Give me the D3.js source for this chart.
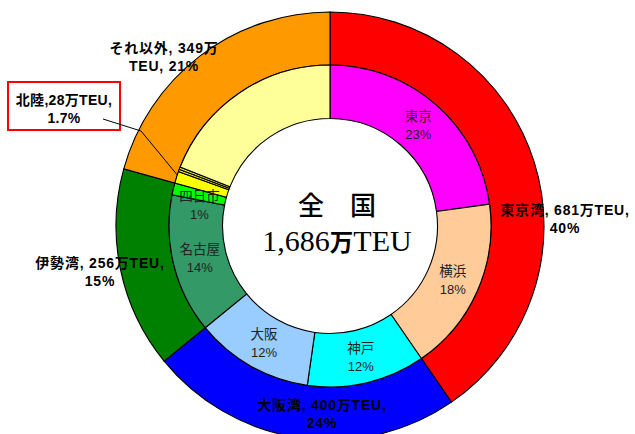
<!DOCTYPE html>
<html>
<head>
<meta charset="utf-8">
<script src="https://cdn.jsdelivr.net/npm/d3@7/dist/d3.min.js"></script>
<style>
  html, body { margin: 0; padding: 0; background: #fff; }
  svg { display: block; }
</style>
</head>
<body>
<svg id="chart" width="635" height="434"></svg>
<script>
// 港湾別コンテナ取扱量（万TEU）
// 外側：港湾グループ
const bayNames   = ["東京湾", "大阪湾", "伊勢湾", "それ以外"];
const bayValues  = [681, 400, 256, 349];
const bayShares  = ["40%", "24%", "15%", "21%"];
const bayColors  = ["#FF0000", "#0000FF", "#008000", "#FF9900"];

// 内側：個別港（北陸3港は「それ以外」の内数）
const portNames  = ["東京", "横浜", "神戸", "大阪", "名古屋", "四日市", "新潟", "伏木富山", "金沢", "その他"];
const portValues = [385, 296, 200, 200, 236, 20, 20, 4, 4, 321];
const portShares = ["23%", "18%", "12%", "12%", "14%", "1%", null, null, null, null];
const portColors = ["#FF00FF", "#FFCC99", "#00FFFF", "#99CCFF", "#339966", "#00FF00",
                    "#FFFF00", "#FFFF00", "#FFFF00", "#FFFF99"];

// 北陸の注記
const hokurikuLabel = ["北陸,28万TEU,", "1.7%"];
const totalLabel = { title: "全　国", value: "1,686", unit: "万", suffix: "TEU" };

const svg = d3.select("#chart");
const cx = 330, cy = 226;
const rHole = 107.5, rMid = 161, rOuter = 214;

const g = svg.append("g").attr("transform", `translate(${cx},${cy})`);

const pie = d3.pie().sort(null).value(d => d.v).startAngle(0).endAngle(2 * Math.PI);

const outerData = pie(bayNames.map((n, i) => ({ n, v: bayValues[i], c: bayColors[i], s: bayShares[i] })));
const innerData = pie(portNames.map((n, i) => ({ n, v: portValues[i], c: portColors[i], s: portShares[i] })));

const outerArc = d3.arc().innerRadius(rMid).outerRadius(rOuter);
const innerArc = d3.arc().innerRadius(rHole).outerRadius(rMid);

g.selectAll("path.outer").data(outerData).join("path")
  .attr("class", "outer")
  .attr("d", outerArc)
  .attr("fill", d => d.data.c)
  .attr("stroke", "#000")
  .attr("stroke-width", 1.1);

g.selectAll("path.inner").data(innerData).join("path")
  .attr("class", "inner")
  .attr("d", innerArc)
  .attr("fill", d => d.data.c)
  .attr("stroke", "#000")
  .attr("stroke-width", 1.1);

// 内側の港名ラベル
const jp = "'Noto Sans CJK JP', 'Noto Sans', sans-serif";
const latinJp = "'Liberation Sans', 'Noto Sans CJK JP', sans-serif";
const inner = g.selectAll("g.ilabel").data(innerData.filter(d => d.data.s)).join("g")
  .attr("class", "ilabel")
  .attr("transform", d => {
    const [x, y] = innerArc.centroid(d);
    const shift = d.data.n === "四日市" ? 10 : 0;
    return `translate(${x},${y + shift})`;
  });
inner.append("text")
  .attr("text-anchor", "middle")
  .attr("y", -4)
  .style("font-family", jp).style("font-size", "13.5px").style("fill", "#222")
  .text(d => d.data.n);
inner.append("text")
  .attr("text-anchor", "middle")
  .attr("y", 14)
  .style("font-family", latinJp).style("font-size", "13px").style("fill", "#222")
  .text(d => d.data.s);

// 外側のグループラベル
const outerLabelPos = {
  "東京湾":  [565, 210, "東京湾, 681万TEU,", "40%"],
  "大阪湾":  [322, 405, "大阪湾, 400万TEU,", "24%"],
  "伊勢湾":  [100, 263, "伊勢湾, 256万TEU,", "15%"],
  "それ以外": [164, 48, "それ以外, 349万", "TEU, 21%"]
};
outerData.forEach(d => {
  const [x, y, l1, l2] = outerLabelPos[d.data.n];
  const t = svg.append("text")
    .attr("text-anchor", "middle")
    .style("font-family", latinJp).style("font-size", "14px").style("font-weight", "700")
    .style("letter-spacing", "0.8px").style("fill", "#000");
  t.append("tspan").attr("x", x).attr("y", y + 5).text(l1);
  t.append("tspan").attr("x", x).attr("y", y + 23).text(l2);
});

// 北陸の注記枠と引き出し線
svg.append("rect")
  .attr("x", 8).attr("y", 82).attr("width", 112).attr("height", 48)
  .attr("fill", "#fff").attr("stroke", "#FF0000").attr("stroke-width", 2);
const hk = svg.append("text")
  .attr("text-anchor", "middle")
  .style("font-family", latinJp).style("font-size", "14px").style("font-weight", "700")
  .style("letter-spacing", "0.3px").style("fill", "#000");
hk.append("tspan").attr("x", 64).attr("y", 105).text(hokurikuLabel[0]);
hk.append("tspan").attr("x", 64).attr("y", 123).text(hokurikuLabel[1]);

// 引き出し線：北陸3港のスライス中央を指す
const hkSlices = innerData.filter(d => ["新潟", "伏木富山", "金沢"].includes(d.data.n));
const hkAngle = (hkSlices[0].startAngle + hkSlices[hkSlices.length - 1].endAngle) / 2;
const tip = [cx + rMid * Math.sin(hkAngle), cy - rMid * Math.cos(hkAngle)];
svg.append("polyline")
  .attr("points", [[103, 119], [141, 131], tip].map(p => p.join(",")).join(" "))
  .attr("fill", "none").attr("stroke", "#000").attr("stroke-width", 1);

// 中央の合計
g.append("text")
  .attr("text-anchor", "middle")
  .attr("x", 7).attr("y", -11)
  .style("font-family", jp).style("font-size", "26px").style("font-weight", "500")
  .style("fill", "#000")
  .text(totalLabel.title);
const tot = g.append("text")
  .attr("text-anchor", "middle")
  .attr("x", 7).attr("y", 24.5)
  .style("font-family", "'Liberation Serif', 'DejaVu Serif', serif").style("font-size", "30px")
  .style("fill", "#000");
tot.append("tspan").text(totalLabel.value);
tot.append("tspan").style("font-family", jp).style("font-weight", "700").style("font-size", "23.5px")
  .text(totalLabel.unit);
tot.append("tspan").text(totalLabel.suffix);
</script>
</body>
</html>
